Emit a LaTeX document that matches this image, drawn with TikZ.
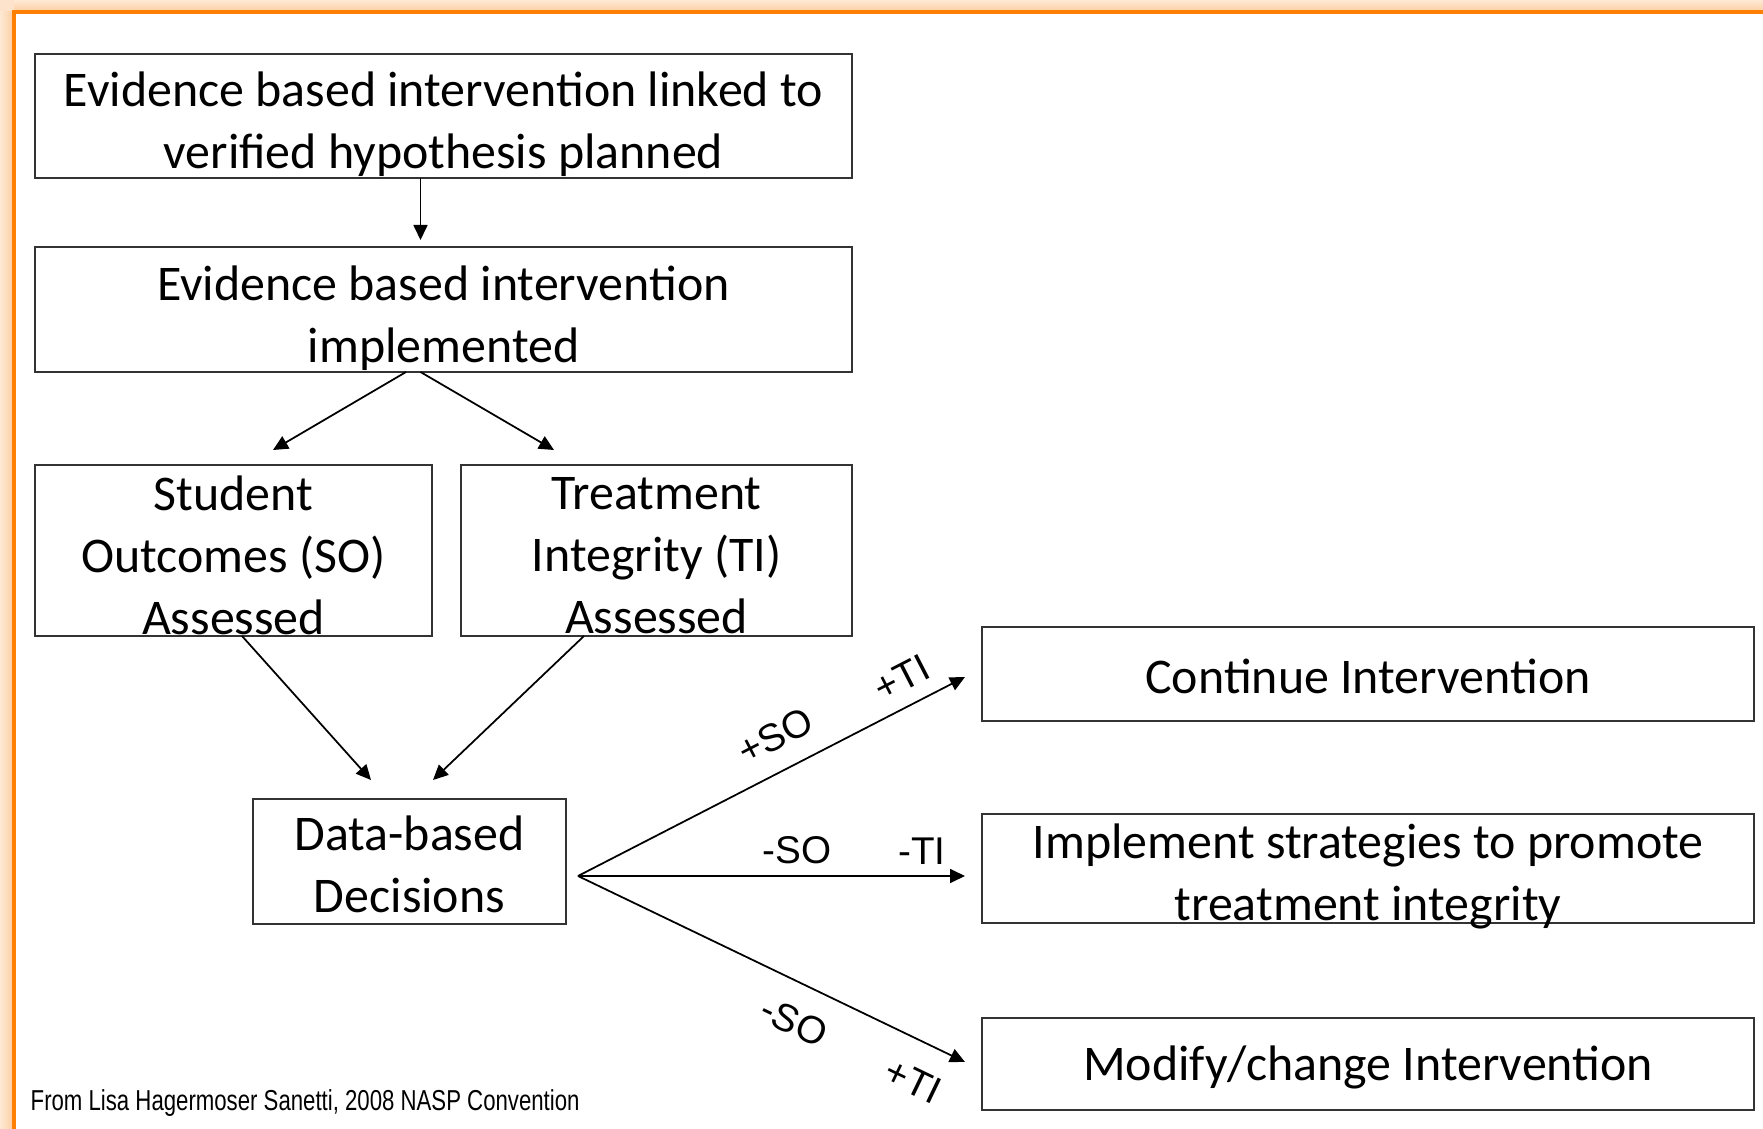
\documentclass[tikz,border=0pt]{standalone}
\usepackage{fontspec}
\setmainfont{Carlito}
\newfontfamily\labelfont{Liberation Sans}
\newfontfamily\notefont[FakeStretch=0.77]{Liberation Sans}
\usepackage{xcolor}
\usetikzlibrary{arrows.meta,positioning}

\definecolor{frameorange}{RGB}{255,128,0}
\definecolor{glow}{RGB}{252,205,160}

\begin{document}
\begin{tikzpicture}[
  x=1cm, y=-1cm,
  box/.style={rectangle,draw=black!80,line width=0.6pt,inner sep=0pt,outer sep=0pt},
  txt/.style={align=center,inner sep=0pt,font=\fontsize{14.2}{17.6}\selectfont},
  lbl/.style={inner sep=0pt,font=\labelfont\fontsize{11}{13}\selectfont},
  note/.style={inner sep=0pt,font=\notefont\fontsize{8.2}{10}\selectfont},
  arrow/.style={-{Triangle[length=1.5mm,width=1.4mm]},line width=0.5pt},
]
\useasboundingbox (0,0) rectangle (17.63,11.29);

% orange frame with its soft glow
\fill[glow!55] (0,0) rectangle (0.14,0.12);
\shade[top color=glow!45,bottom color=glow] (0.14,0) rectangle (17.63,0.12);
\shade[left color=glow!45,right color=glow] (0,0.12) rectangle (0.14,11.29);
\draw[frameorange,line width=0.04cm] (0.14,11.29) -- (0.14,0.12) -- (17.63,0.12);

% boxes
\node[box,minimum width=8.17cm,minimum height=1.24cm] (plan) at (4.435,1.16) {};
\node[box,minimum width=8.17cm,minimum height=1.25cm,below=0.69cm of plan] (impl) {};
\node[box,minimum width=3.97cm,minimum height=1.71cm,below=0.93cm of impl.south west,anchor=north west] (so) {};
\node[box,minimum width=3.91cm,minimum height=1.71cm,right=0.29cm of so] (ti) {};
\node[box,minimum width=3.13cm,minimum height=1.25cm] (data) at (4.095,8.615) {};
\node[box,minimum width=7.72cm,minimum height=0.94cm] (cont) at (13.68,6.74) {};
\node[box,minimum width=7.72cm,minimum height=1.09cm,below=0.93cm of cont] (promote) {};
\node[box,minimum width=7.72cm,minimum height=0.92cm,below=0.95cm of promote] (modify) {};

% box texts, set a little low in their boxes
\node[txt] (plan-t) at ([yshift=-0.08cm]plan) {Evidence based intervention linked to\\verified hypothesis planned};
\node[txt] (impl-t) at ([yshift=-0.09cm]impl) {Evidence based intervention\\implemented};
\node[txt] (so-t) at ([yshift=-0.05cm]so) {Student\\Outcomes (SO)\\Assessed};
\node[txt] (ti-t) at ([yshift=-0.05cm]ti) {Treatment\\Integrity (TI)\\Assessed};
\node[txt] (data-t) at ([yshift=-0.03cm]data) {Data-based\\Decisions};
\node[txt] (cont-t) at ([yshift=-0.02cm]cont) {Continue Intervention};
\node[txt] (promote-t) at ([yshift=-0.08cm]promote) {Implement strategies to promote\\treatment integrity};
\node[txt] (modify-t) at ([yshift=-0.03cm]modify) {Modify/change Intervention};

\node[note,anchor=west] (credit) at (0.30,11.03) {From Lisa Hagermoser Sanetti, 2008 NASP Convention};

% connectors
\draw[arrow] ([xshift=-0.23cm]plan.south) -- ([xshift=-0.23cm,yshift=0.07cm]impl.north);
\draw[arrow] ([xshift=-0.375cm]impl.south) -- ([xshift=0.395cm,yshift=0.15cm]so.north);
\draw[arrow] ([xshift=-0.23cm]impl.south) -- ([xshift=-1.025cm,yshift=0.15cm]ti.north);
\draw[arrow] ([xshift=0.085cm]so.south) -- ([xshift=-0.385cm,yshift=0.19cm]data.north);
\draw[arrow] ([xshift=-0.725cm]ti.south) -- ([xshift=0.235cm,yshift=0.19cm]data.north);

\coordinate (fork) at ([xshift=0.12cm,yshift=-0.145cm]data.east);
\draw[arrow] (fork) -- ([xshift=-0.17cm,yshift=-0.03cm]cont.west)
  node[lbl,sloped,above=0.2cm,pos=0.55] (so-plus) {+SO}
  node[lbl,sloped,above=0.14cm,pos=0.87] (ti-plus) {+TI};
\draw[arrow] (fork) -- ([xshift=-0.17cm,yshift=-0.075cm]promote.west)
  node[lbl,above=0.11cm,pos=0.566] (so-minus) {-SO}
  node[lbl,above=0.11cm,pos=0.889] (ti-minus) {-TI};
\draw[arrow] (fork) -- ([xshift=-0.17cm,yshift=0.02cm]modify.west)
  node[lbl,sloped,below=0.23cm,pos=0.60] (so-minus2) {-SO}
  node[lbl,sloped,below=0.25cm,pos=0.91] (ti-plus2) {+TI};
\end{tikzpicture}
\end{document}
